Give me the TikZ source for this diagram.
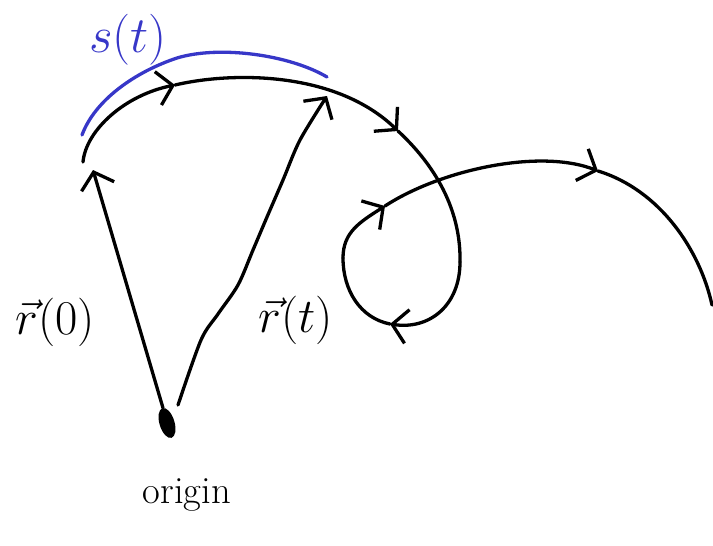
\documentclass[tikz,border=0pt]{standalone}
\usetikzlibrary{arrows.meta,shapes.geometric}
\definecolor{inkblue}{RGB}{55,55,200}
\begin{document}
\begin{tikzpicture}[x=1pt,y=-1pt,
  ink/.style={line width=3.3pt,line cap=round,line join=round},
  barb/.style={-{Straight Barb[length=15pt,width=34pt,line width=3.3pt]}},
  lbl/.style={font=\Huge,scale=1.95,inner sep=0pt}]
\useasboundingbox (0,0) rectangle (713,546);
% curve points
\coordinate (A0) at (83,162);
\coordinate (A1) at (175,85);
\coordinate (A2) at (398,131);
\coordinate (A3) at (460,262);
\coordinate (A4) at (390,324);
\coordinate (A5) at (343,258);
\coordinate (A6) at (385,206);
\coordinate (A8) at (598,171);
\coordinate (A9) at (712,305);
% the curve r(t)
\draw[ink,barb] (A0) .. controls (86,130) and (125,95) .. (A1);
\draw[ink,barb] (A1) .. controls (230,72) and (335,70) .. (A2);
\draw[ink] (A2) .. controls (440,170) and (461,215) .. (A3);
\draw[ink,barb] (A3) .. controls (460,305) and (430,330) .. (A4);
\draw[ink] (A4) .. controls (360,318) and (343,290) .. (A5);
\draw[ink,barb] (A5) .. controls (343,232) and (360,222) .. (A6);
\draw[ink,barb] (A6) .. controls (440,170) and (540,148) .. (A8);
\draw[ink] (A8) .. controls (660,190) and (700,250) .. (A9);
% origin
\node[ellipse,fill=black,draw=none,minimum width=15pt,minimum height=31pt,inner sep=0pt,rotate=17] (origin) at (167,423) {};
\coordinate (O1) at (163,408);
\coordinate (O2) at (178,405);
\coordinate (R0tip) at (93,170);
\coordinate (Rttip) at (327,96);
% position vectors
\draw[ink,barb] (O1) -- (R0tip);
\draw[ink,barb] plot[smooth,tension=0.5] coordinates {(O2) (201,340) (218,314) (238,285) (253,250) (267,217) (283,180) (300,140) (Rttip)};
% arc length brace
\coordinate (B0) at (82,135);
\coordinate (B1) at (177,58);
\coordinate (B2) at (327,77);
\draw[ink,inkblue] (B0) .. controls (95,100) and (135,72) .. (B1) .. controls (220,45) and (290,55) .. (B2);
% labels
\node[lbl] (l0) at (55,322) {$\vec{r}(0)$};
\node[lbl] (lt) at (296,320) {$\vec{r}(t)$};
\node[font=\Huge,inner sep=0pt,text=inkblue,scale=2.05] (st) at (128,40) {$s(t)$};
\node[font=\Huge,scale=1.55] (orig) at (187,495) {origin};
\end{tikzpicture}
\end{document}
